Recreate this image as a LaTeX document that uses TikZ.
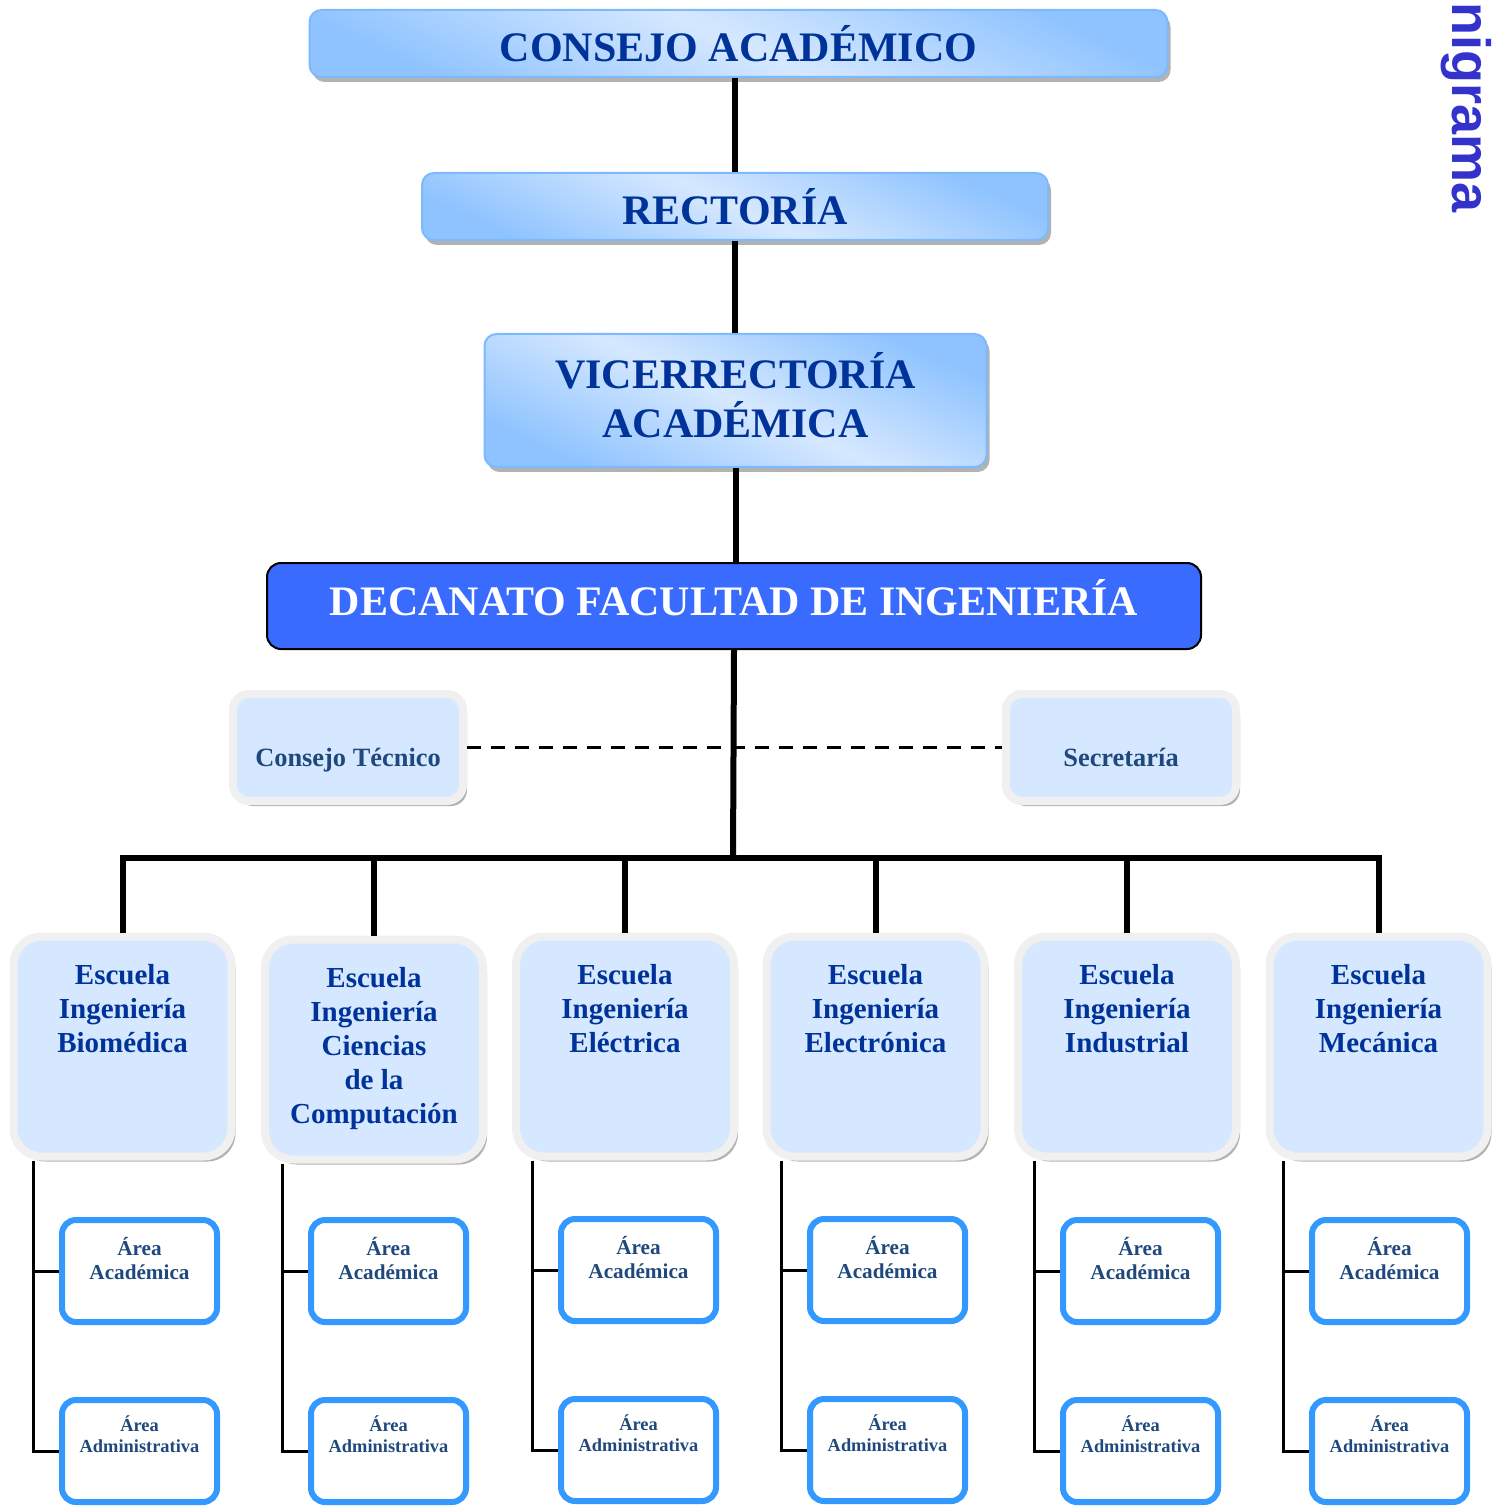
\documentclass[tikz,border=0pt]{standalone}
\usepackage{fontspec}
\setmainfont{Liberation Serif}
\newfontfamily\titlefont{Liberation Sans}
\usepackage{tikz}
\usetikzlibrary{shapes, shadows, calc}

\definecolor{navy}{RGB}{0,51,153}
\definecolor{slate}{RGB}{31,73,125}
\definecolor{paleblue}{RGB}{214,232,255}
\definecolor{skyblue}{RGB}{142,195,255}
\definecolor{rimblue}{RGB}{125,185,255}
\definecolor{deanblue}{RGB}{58,107,255}
\definecolor{areablue}{RGB}{51,153,255}
\definecolor{titleviolet}{RGB}{51,51,204}
\definecolor{rimgray}{RGB}{240,240,240}

\newcommand{\schooltext}[1]{\parbox[c][82pt][t]{105pt}{\centering #1}}
\newcommand{\areatext}[2]{\parbox[c][#1][t]{76pt}{\centering #2}}

\tikzset{
    headbox/.style={rectangle, draw=rimblue, line width=1pt, rounded corners=6pt, top color=skyblue, bottom color=skyblue, middle color=paleblue, shading angle=-25, drop shadow={shadow xshift=1.5pt, shadow yshift=-2.5pt, fill=gray!60, opacity=1}, align=center, text=navy, font=\bfseries\fontsize{21}{24.5}\selectfont},
    deanbox/.style={rectangle, draw=black, line width=1pt, rounded corners=7pt, fill=deanblue, text=white, align=center, text depth=9pt, font=\bfseries\fontsize{21}{24.5}\selectfont},
    unitbox/.style={rectangle, draw=rimgray, line width=4pt, rounded corners=8pt, fill=paleblue, drop shadow={shadow xshift=2pt, shadow yshift=-2.5pt, fill=gray!60, opacity=1}, text=slate, text height=22pt, text depth=3pt, minimum width=115pt, minimum height=53.5pt, font=\bfseries\fontsize{13.2}{15}\selectfont},
    schoolbox/.style={rectangle, draw=rimgray, line width=4pt, rounded corners=14pt, fill=paleblue, drop shadow={shadow xshift=2pt, shadow yshift=-2.5pt, fill=gray!60, opacity=1}, text=navy, inner sep=0pt, minimum width=109pt, minimum height=110pt, font=\bfseries\fontsize{14.5}{17}\selectfont},
    areabox/.style={rectangle, draw=areablue, line width=3pt, rounded corners=7pt, fill=white, text=slate, inner sep=0pt, minimum width=77.5pt, minimum height=51pt},
    link/.style={line width=3pt, black},
    twig/.style={line width=1.5pt, black},
    dashlink/.style={line width=1.5pt, black, dash pattern=on 7pt off 5pt}
}

\begin{document}
\begin{tikzpicture}[x=0.5pt, y=-0.5pt]
    \useasboundingbox (0,0) rectangle (1501,1507);

    % Title
    \node (titulo) [rotate=-90, anchor=base west, inner sep=0pt, text=titleviolet, font=\titlefont\bfseries\fontsize{27}{27}\selectfont] at (1452,2) {nigrama};

    % Upper levels
    \node (consejo) [headbox, minimum width=429pt, minimum height=33.5pt] at (738.5,43.5) {CONSEJO ACADÉMICO};
    \node (rectoria) [headbox, minimum width=313pt, minimum height=33.5pt] at (735,206.5) {RECTORÍA};
    \node (vice) [headbox, minimum width=251pt, minimum height=66.5pt] at (735.5,400.5) {\raisebox{2.75pt}[\height][\depth]{\parbox{240pt}{\centering VICERRECTORÍA\\ACADÉMICA}}};
    \node (decanato) [deanbox, minimum width=467pt, minimum height=43pt] at (734,606) {DECANATO FACULTAD DE INGENIERÍA};

    % Staff units
    \node (tecnico) [unitbox] at (348,747.5) {Consejo Técnico};
    \node (secretaria) [unitbox] at (1121,747.5) {Secretaría};

    % Schools
    \node (bio) [schoolbox] at (122.5,1046.5) {\schooltext{Escuela\\Ingeniería\\Biomédica}};
    \node (comp) [schoolbox] at (374,1049.5) {\schooltext{Escuela\\Ingeniería\\Ciencias\\de la\\Computación}};
    \node (ele) [schoolbox] at (625,1046.5) {\schooltext{Escuela\\Ingeniería\\Eléctrica}};
    \node (elo) [schoolbox] at (875.5,1046.5) {\schooltext{Escuela\\Ingeniería\\Electrónica}};
    \node (ind) [schoolbox] at (1127,1046.5) {\schooltext{Escuela\\Ingeniería\\Industrial}};
    \node (mec) [schoolbox] at (1378.5,1046.5) {\schooltext{Escuela\\Ingeniería\\Mecánica}};

    % Areas
    \node (bioaca) [areabox, font=\bfseries\fontsize{10.6}{12}\selectfont] at (139.5,1271) {\areatext{34pt}{Área\\Académica}};
    \node (bioadm) [areabox, font=\bfseries\fontsize{9.2}{10.5}\selectfont] at (139.5,1451) {\areatext{35pt}{Área\\Administrativa}};
    \node (compaca) [areabox, font=\bfseries\fontsize{10.6}{12}\selectfont] at (388.5,1271) {\areatext{34pt}{Área\\Académica}};
    \node (compadm) [areabox, font=\bfseries\fontsize{9.2}{10.5}\selectfont] at (388.5,1451) {\areatext{35pt}{Área\\Administrativa}};
    \node (eleaca) [areabox, font=\bfseries\fontsize{10.6}{12}\selectfont] at (638.5,1270) {\areatext{34pt}{Área\\Académica}};
    \node (eleadm) [areabox, font=\bfseries\fontsize{9.2}{10.5}\selectfont] at (638.5,1450) {\areatext{35pt}{Área\\Administrativa}};
    \node (eloaca) [areabox, font=\bfseries\fontsize{10.6}{12}\selectfont] at (887.5,1270) {\areatext{34pt}{Área\\Académica}};
    \node (eloadm) [areabox, font=\bfseries\fontsize{9.2}{10.5}\selectfont] at (887.5,1450) {\areatext{35pt}{Área\\Administrativa}};
    \node (indaca) [areabox, font=\bfseries\fontsize{10.6}{12}\selectfont] at (1140.5,1271) {\areatext{34pt}{Área\\Académica}};
    \node (indadm) [areabox, font=\bfseries\fontsize{9.2}{10.5}\selectfont] at (1140.5,1451) {\areatext{35pt}{Área\\Administrativa}};
    \node (mecaca) [areabox, font=\bfseries\fontsize{10.6}{12}\selectfont] at (1389.5,1271) {\areatext{34pt}{Área\\Académica}};
    \node (mecadm) [areabox, font=\bfseries\fontsize{9.2}{10.5}\selectfont] at (1389.5,1451) {\areatext{35pt}{Área\\Administrativa}};

    % Chain of command
    \draw [link] (rectoria.north) -- (rectoria.north |- consejo.south);
    \draw [link] (rectoria.south) -- (rectoria.south |- vice.north);
    \draw [link] (vice.south) -- (vice.south |- decanato.north);
    \coordinate (bus) at (733,858);
    \draw [link] (decanato.south) -- (bus);
    \draw [dashlink] (tecnico.east) -- (secretaria.west);

    % Bus to schools
    \draw [link] (bio.north) |- (bus) -| (mec.north);
    \draw [link] (comp.north) -- (comp.north |- bus);
    \draw [link] (ele.north) -- (ele.north |- bus);
    \draw [link] (elo.north) -- (elo.north |- bus);
    \draw [link] (ind.north) -- (ind.north |- bus);

    % Schools to areas
    \draw [twig] (bioaca.west) -- ++(-26,0) coordinate (biostem);
    \draw [twig] (biostem |- bio.south) |- (bioadm.west);
    \draw [twig] (compaca.west) -- ++(-26,0) coordinate (compstem);
    \draw [twig] (compstem |- comp.south) |- (compadm.west);
    \draw [twig] (eleaca.west) -- ++(-26,0) coordinate (elestem);
    \draw [twig] (elestem |- ele.south) |- (eleadm.west);
    \draw [twig] (eloaca.west) -- ++(-26,0) coordinate (elostem);
    \draw [twig] (elostem |- elo.south) |- (eloadm.west);
    \draw [twig] (indaca.west) -- ++(-26,0) coordinate (indstem);
    \draw [twig] (indstem |- ind.south) |- (indadm.west);
    \draw [twig] (mecaca.west) -- ++(-26,0) coordinate (mecstem);
    \draw [twig] (mecstem |- mec.south) |- (mecadm.west);

\end{tikzpicture}
\end{document}
